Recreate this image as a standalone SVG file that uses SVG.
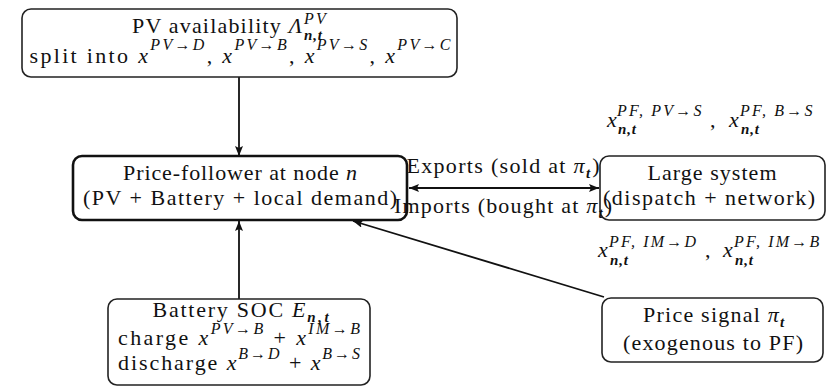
<svg xmlns="http://www.w3.org/2000/svg" width="839" height="387" viewBox="0 0 839 387">
<style>
.box{fill:#fff;stroke:#222;stroke-width:1.6}
.boxb{fill:#fff;stroke:#111;stroke-width:2.6}
text{font-family:"Liberation Serif","Times New Roman","DejaVu Serif",serif;fill:#111}
.t{font-size:22px;text-anchor:middle}
.l{font-size:22px}
.i{font-style:italic}
.s{font-size:16px;font-style:italic}
.sl{font-size:16px;font-style:italic;letter-spacing:2.2px}
.b{font-size:15px;font-style:italic;font-weight:bold;letter-spacing:0.8px}
.c{stroke:#111;stroke-width:1.8;fill:none}
</style>
<defs>
<marker id="ah" viewBox="0 0 10 8" refX="10" refY="4" markerWidth="10" markerHeight="8" markerUnits="userSpaceOnUse" orient="auto-start-reverse">
<path d="M0,0 L10,4 L0,8 L2,4 z" fill="#111"/>
</marker>
</defs>
<g id="connectors">
<line class="c" x1="239" y1="77" x2="239" y2="156" marker-end="url(#ah)"/>
<line class="c" x1="239" y1="299" x2="239" y2="221" marker-end="url(#ah)"/>
<line class="c" x1="409" y1="188" x2="599" y2="188" marker-start="url(#ah)" marker-end="url(#ah)"/>
<line class="c" x1="604" y1="297" x2="353" y2="221" marker-end="url(#ah)"/>
</g>
<g id="pv">
<rect class="box" x="22" y="9" width="435" height="68" rx="9"/>
<text class="l" x="132" y="33" textLength="170" lengthAdjust="spacing">PV availability <tspan class="i">Λ</tspan></text>
<text class="l"><tspan class="sl" x="304" y="24">PV</tspan><tspan class="b" x="304" y="40">n,t</tspan></text>
<text class="t" x="240" y="63" textLength="421" lengthAdjust="spacing">split into <tspan class="i">x</tspan><tspan class="s" dy="-13">PV→D</tspan><tspan dy="13">, </tspan><tspan class="i">x</tspan><tspan class="s" dy="-13">PV→B</tspan><tspan dy="13">, </tspan><tspan class="i">x</tspan><tspan class="s" dy="-13">PV→S</tspan><tspan dy="13">, </tspan><tspan class="i">x</tspan><tspan class="s" dy="-13">PV→C</tspan></text>
</g>
<g id="pf">
<rect class="boxb" x="73" y="156" width="334" height="64" rx="9"/>
<text class="t" x="240" y="180" textLength="234" lengthAdjust="spacing">Price-follower at node <tspan class="i">n</tspan></text>
<text class="t" x="240" y="205" textLength="314" lengthAdjust="spacing">(PV + Battery + local demand)</text>
</g>
<g id="large">
<rect class="box" x="600" y="156" width="225" height="64" rx="9"/>
<text class="t" x="712" y="180" textLength="129" lengthAdjust="spacing">Large system</text>
<text class="t" x="709" y="205" textLength="212" lengthAdjust="spacing">(dispatch + network)</text>
</g>
<g id="battery">
<rect class="box" x="108" y="299" width="262" height="86" rx="9"/>
<text class="t" x="241" y="317" textLength="177" lengthAdjust="spacing">Battery SOC <tspan class="i">E</tspan><tspan class="b" dy="5">n,t</tspan></text>
<text class="t" x="239" y="345" textLength="242" lengthAdjust="spacing">charge <tspan class="i">x</tspan><tspan class="s" dy="-11">PV→B</tspan><tspan dy="11"> + </tspan><tspan class="i">x</tspan><tspan class="s" dy="-11">IM→B</tspan></text>
<text class="t" x="239" y="370" textLength="242" lengthAdjust="spacing">discharge <tspan class="i">x</tspan><tspan class="s" dy="-11">B→D</tspan><tspan dy="11"> + </tspan><tspan class="i">x</tspan><tspan class="s" dy="-11">B→S</tspan></text>
</g>
<g id="price">
<rect class="box" x="602" y="298" width="221" height="64" rx="9"/>
<text class="t" x="714" y="322" textLength="142" lengthAdjust="spacing">Price signal <tspan class="i">π</tspan><tspan class="b" dy="5">t</tspan></text>
<text class="t" x="713" y="350" textLength="180" lengthAdjust="spacing">(exogenous to PF)</text>
</g>
<g id="labels">
<text class="t" x="503" y="173" textLength="193" lengthAdjust="spacing">Exports (sold at <tspan class="i">π</tspan><tspan class="b" dy="5">t</tspan><tspan dy="-5">)</tspan></text>
<text class="t" x="503" y="213" textLength="218" lengthAdjust="spacing">Imports (bought at <tspan class="i">π</tspan><tspan class="b" dy="5">t</tspan><tspan dy="-5">)</tspan></text>
<text class="l"><tspan class="i" x="607" y="127">x</tspan><tspan class="sl" x="617" y="116">PF, PV→S</tspan><tspan class="b" x="618" y="134">n,t</tspan><tspan x="710" y="127">,</tspan><tspan class="i" x="729" y="127">x</tspan><tspan class="sl" x="740" y="116">PF, B→S</tspan><tspan class="b" x="741" y="134">n,t</tspan></text>
<text class="l"><tspan class="i" x="598" y="257">x</tspan><tspan class="sl" x="609" y="247">PF, IM→D</tspan><tspan class="b" x="610" y="265">n,t</tspan><tspan x="705" y="257">,</tspan><tspan class="i" x="723" y="257">x</tspan><tspan class="sl" x="734" y="247">PF, IM→B</tspan><tspan class="b" x="735" y="265">n,t</tspan></text>
</g>
</svg>
